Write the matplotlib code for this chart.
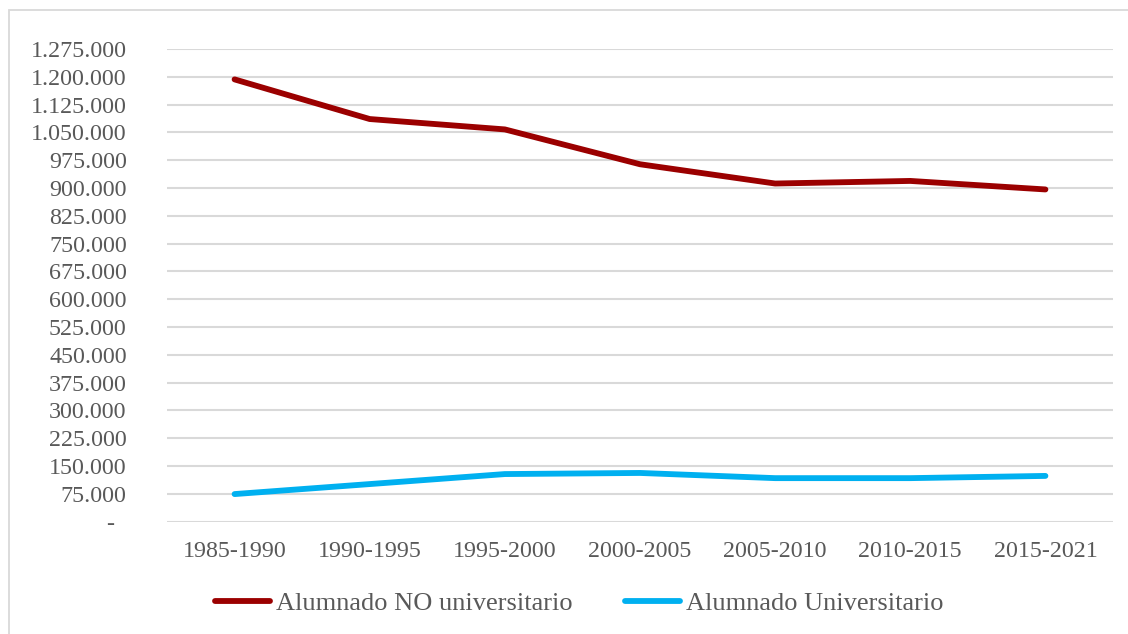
import matplotlib.pyplot as plt
from matplotlib.patches import Rectangle
from matplotlib.ticker import FuncFormatter

periodos = ["1985-1990", "1990-1995", "1995-2000", "2000-2005",
            "2005-2010", "2010-2015", "2015-2021"]
no_universitario = [1193000, 1086000, 1058000, 964000, 912000, 919000, 896000]
universitario = [74000, 101000, 128000, 131000, 117000, 117000, 123000]

plt.rcParams["font.family"] = ["Liberation Serif", "DejaVu Serif"]

fig = plt.figure(figsize=(11.28, 6.34), dpi=100)
ax = fig.add_axes([167 / 1128, 1 - 521.5 / 634, (1113 - 167) / 1128, 472.5 / 634])

# borde del gráfico (estilo Excel), cortado a la derecha y abajo
fig.patches.append(Rectangle((8.5 / 1128, -0.1), 1.2, 1.1 - 10 / 634,
                             transform=fig.transFigure, fill=False,
                             edgecolor="#D9D9D9", linewidth=1.3))

x = range(len(periodos))
ax.plot(x, no_universitario, color="#9B0000", linewidth=4.2,
        solid_capstyle="round", label="Alumnado NO universitario")
ax.plot(x, universitario, color="#00B0F0", linewidth=4.2,
        solid_capstyle="round", label="Alumnado Universitario")

ax.set_xlim(-0.5, len(periodos) - 0.5)
ax.set_ylim(0, 1275000)
ax.set_yticks(range(0, 1275001, 75000))


def fmt(v, pos):
    if v == 0:
        return "-  "
    return f"{int(v):,}".replace(",", ".")


ax.yaxis.set_major_formatter(FuncFormatter(fmt))
ax.set_xticks(list(x))
ax.set_xticklabels(periodos)

ax.set_axisbelow(True)
ax.yaxis.grid(color="#D9D9D9", linewidth=1.5)
for s in ax.spines.values():
    s.set_visible(False)
ax.tick_params(length=0, labelsize=17.3, colors="#595959")
ax.tick_params(axis="y", pad=29)
ax.tick_params(axis="x", pad=14)

fig.legend(loc="center", bbox_to_anchor=(579 / 1128, 1 - 603 / 634), ncol=2,
           frameon=False, fontsize=19, labelcolor="#595959",
           handlelength=2.1, handletextpad=0.2, columnspacing=2.0)

fig.savefig("out.png", dpi=100, facecolor="white")
